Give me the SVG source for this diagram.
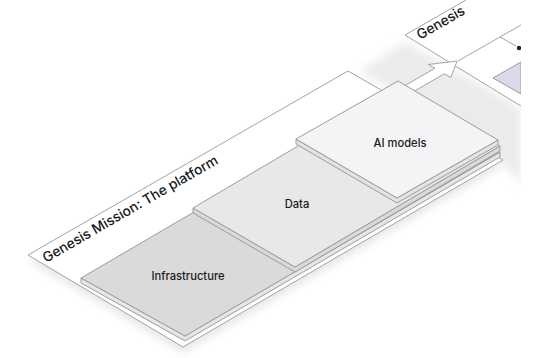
<svg xmlns="http://www.w3.org/2000/svg" width="533" height="358" viewBox="0 0 533 358">
  <defs>
    <filter id="blur4" x="-20%" y="-20%" width="140%" height="140%"><feGaussianBlur stdDeviation="4"/></filter>
    <filter id="blur5" x="-30%" y="-30%" width="160%" height="160%"><feGaussianBlur stdDeviation="5"/></filter>
    <clipPath id="view"><rect x="0" y="0" width="521" height="358"/></clipPath>
    <style>
      .edge{stroke:#a3a3a3;stroke-width:1;stroke-linejoin:round;fill:none}
      .plat{fill:#ffffff;stroke:#a3a3a3;stroke-width:1;stroke-linejoin:round}
      .infra{fill:#dadada;stroke:#9c9c9c;stroke-width:1;stroke-linejoin:round}
      .infra-side{fill:#e6e6e6;stroke:#9c9c9c;stroke-width:1;stroke-linejoin:round}
      .data{fill:#e8e8e8;stroke:#9c9c9c;stroke-width:1;stroke-linejoin:round}
      .data-side{fill:#d9d9d9;stroke:#9c9c9c;stroke-width:1;stroke-linejoin:round}
      .ai{fill:#f4f4f6;stroke:#9c9c9c;stroke-width:1;stroke-linejoin:round}
      .ai-side{fill:#e3e3e3;stroke:#9c9c9c;stroke-width:1;stroke-linejoin:round}
      .label{font-family:Inter,"Liberation Sans",Arial,sans-serif;font-size:11.2px;font-weight:500;fill:#1a1a1a;text-anchor:middle}
      .title{font-family:Inter,"Liberation Sans",Arial,sans-serif;font-size:13.8px;font-weight:500;fill:#1a1a1a}
    </style>
  </defs>
  <rect width="533" height="358" fill="#ffffff"/>

  <g id="shadows" clip-path="url(#view)">
    <polygon points="360,72 405,42 521,108 521,185 500,160 398,92" fill="#ebebeb" filter="url(#blur5)"/>
    <polygon points="28,261 348,77 503,166 183,353" fill="#000" opacity="0.09" filter="url(#blur4)"/>
  </g>

  <g id="panel-2" clip-path="url(#view)">
    <polygon points="405,35 466,0 521,0 521,106" fill="#ffffff"/>
    <polyline class="edge" points="466,0 405,35 457,67 521,106"/>
    <text class="title" transform="translate(420,40) rotate(-30)">Genesis</text>
    <polyline class="edge" points="458,61 500,37 521,25"/>
    <line class="edge" x1="500" y1="37" x2="516" y2="46"/>
    <circle cx="519" cy="48" r="2.2" fill="#222"/>
    <polygon points="493,78 521,62 521,94" fill="#d9d9ea" stroke="#9c9c9c" stroke-width="1"/>
  </g>

  <g id="platform">
    <polygon class="plat" points="28,255 348,71 503,160 183,347"/>
    <text class="title" transform="translate(46,263) rotate(-30)">Genesis Mission: The platform</text>
  </g>

  <g id="connectors">
    <polygon points="378.6,100.8 434.9,68.3 428.4,64.5 457,61 450.9,77.5 444.4,73.8 388.1,106.3" fill="#ffffff" stroke="#a3a3a3" stroke-width="1" stroke-linejoin="miter"/>
  </g>

  <g id="infrastructure">
    <polygon class="infra-side" points="81,278 185,336 500,152 500,157 185,341 81,283"/>
    <polygon class="infra" points="81,278 396,94 500,152 185,336"/>
    <text class="label" x="188" y="280">Infrastructure</text>
  </g>

  <g id="data">
    <polygon class="data-side" points="193,208 295,267 500,146 500,151 295,272 193,213"/>
    <polygon class="data" points="193,208 398,87 500,146 295,267"/>
    <text class="label" x="297" y="208">Data</text>
  </g>

  <g id="ai-models">
    <polygon class="ai-side" points="296,139 397,198 498,140 498,145 397,203 296,144"/>
    <polygon class="ai" points="296,139 398,81 498,140 397,198"/>
    <text class="label" x="400" y="147">AI models</text>
  </g>
</svg>
